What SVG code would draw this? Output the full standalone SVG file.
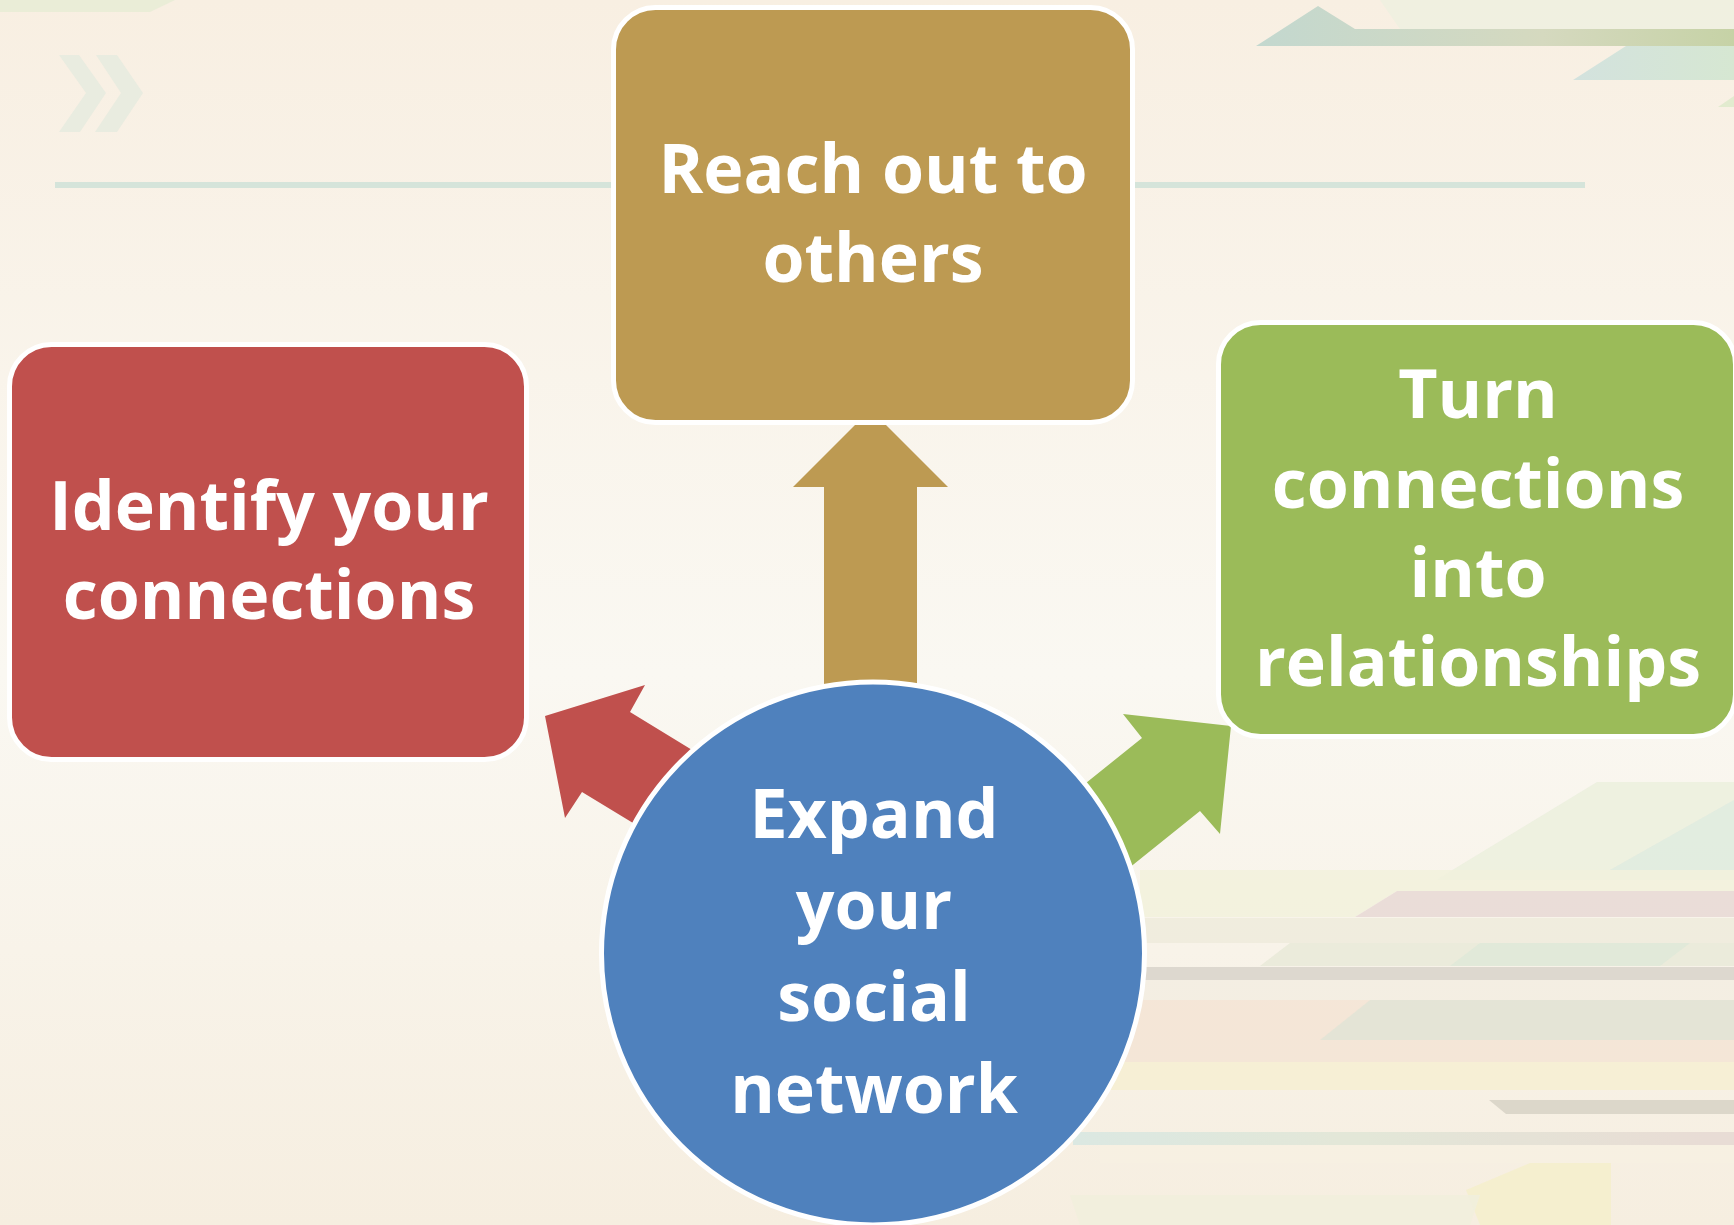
<svg xmlns="http://www.w3.org/2000/svg" width="1734" height="1225" viewBox="0 0 1734 1225">
<defs>
<linearGradient id="bg" x1="0" y1="0" x2="0" y2="1">
<stop offset="0" stop-color="#f8efe2"/>
<stop offset="0.55" stop-color="#faf8f2"/>
<stop offset="1" stop-color="#f6eee0"/>
</linearGradient>
<linearGradient id="teal1" x1="0" y1="0" x2="1" y2="0">
<stop offset="0" stop-color="#c3d8cf"/>
<stop offset="0.6" stop-color="#d5d9bf"/>
<stop offset="1" stop-color="#c6d2a6"/>
</linearGradient>
<linearGradient id="teal2" x1="0" y1="0" x2="1" y2="0">
<stop offset="0" stop-color="#d3e2de"/>
<stop offset="1" stop-color="#d6e7d2"/>
</linearGradient>
<linearGradient id="tealband" x1="0" y1="0" x2="1" y2="0">
<stop offset="0" stop-color="#d6e7e2"/>
<stop offset="0.4" stop-color="#dfe6d6"/>
<stop offset="1" stop-color="#e6d8d2"/>
</linearGradient>
<style>
.box{stroke:#ffffff;stroke-width:5}
.lbl{font-family:"Open Sans","Noto Sans","Liberation Sans",sans-serif;font-weight:700;font-size:68px;fill:#ffffff;text-anchor:middle}
.deco{stroke:none}
</style>
</defs>

<g id="background">
<rect x="0" y="0" width="1734" height="1225" fill="url(#bg)"/>
<polygon class="deco" points="0,0 175,0 150,12 0,12" fill="#e6ecd4" opacity="0.8"/>
<polygon class="deco" points="59,55 79,55 106,93 80,132 59,132 86,93" fill="#e9ece0"/>
<polygon class="deco" points="96,55 117,55 143,93 117,132 95,132 121,93" fill="#e9ece0"/>
<rect x="55" y="182" width="1530" height="6" fill="#d5e4da"/>
<polygon class="deco" points="1380,0 1734,0 1734,29 1400,29" fill="#eef0e0" opacity="0.8"/>
<polygon class="deco" points="1256,46 1318,6 1355,29 1734,29 1734,46" fill="url(#teal1)"/>
<polygon class="deco" points="1573,80 1626,46 1734,46 1734,80" fill="url(#teal2)"/>
<polygon class="deco" points="1718,107 1734,96 1734,107" fill="#e2ebcf"/>
<g opacity="0.85">
<polygon class="deco" points="1597,782 1734,782 1734,880 1436,880" fill="#e9eedb" opacity="0.9"/>
<polygon class="deco" points="1734,800 1734,870 1610,870" fill="#d9e8dd" opacity="0.8"/>
<polygon class="deco" points="1140,870 1734,870 1734,891 1397,891 1355,917 1140,917" fill="#f1f1da" opacity="0.9"/>
<polygon class="deco" points="1397,891 1734,891 1734,917 1355,917" fill="#e8d9d5"/>
<polygon class="deco" points="1140,918 1734,918 1734,943 1140,943" fill="#ece9d9" opacity="0.9"/>
<polygon class="deco" points="1290,943 1734,943 1734,966 1260,966" fill="#e6e8d6" opacity="0.9"/>
<polygon class="deco" points="1480,943 1690,943 1660,966 1450,966" fill="#dce7d6" opacity="0.9"/>
<rect x="1140" y="967" width="594" height="13" fill="#d8d4ca"/>
<polygon class="deco" points="1140,980 1734,980 1734,1000 1140,1000" fill="#f2ece0" opacity="0.9"/>
<polygon class="deco" points="1130,1000 1734,1000 1734,1062 1110,1062" fill="#f3e1d2" opacity="0.9"/>
<polygon class="deco" points="1370,1000 1734,1000 1734,1040 1320,1040" fill="#e0e1d3" opacity="0.95"/>
<polygon class="deco" points="1110,1062 1734,1062 1734,1090 1100,1090" fill="#f5edcf" opacity="0.9"/>
<polygon class="deco" points="1489,1100 1734,1100 1734,1114 1506,1114" fill="#d7d2c6"/>
<rect x="1073" y="1132" width="661" height="13" fill="url(#tealband)"/>
<polygon class="deco" points="1100,1145 1734,1145 1734,1163 1100,1163" fill="#f6f0e2" opacity="0.9"/>
<polygon class="deco" points="1530,1163 1611,1163 1611,1225 1480,1225 1466,1190" fill="#f5efcc"/>
<polygon class="deco" points="1070,1195 1480,1195 1470,1225 1080,1225" fill="#efeedb" opacity="0.9"/>
</g>
</g>

<g id="connectors">
<polygon id="arrow-gold" points="870.5,409.5 948,487 917,487 917,720 824,720 824,487 793,487" fill="#bd9a52"/>
<polygon id="arrow-red" points="545,716 645,685 630,712 769,797 712,871 582,792 565,818" fill="#c0504d"/>
<polygon id="arrow-green" points="1231,726 1220,834 1200,811 1083,905 1025,832 1142,738 1123,714" fill="#9bbb59"/>
</g>

<g id="node-reach">
<rect class="box" x="613.5" y="7.5" width="519" height="415" rx="42" fill="#bd9a52"/>
<text class="lbl" x="873" y="193">Reach out to</text>
<text class="lbl" x="873" y="282">others</text>
</g>

<g id="node-identify">
<rect class="box" x="9.5" y="344.5" width="517" height="415" rx="42" fill="#c0504d"/>
<text class="lbl" x="269" y="530">Identify your</text>
<text class="lbl" x="269" y="619">connections</text>
</g>

<g id="node-turn">
<rect class="box" x="1218.5" y="322.5" width="517" height="414" rx="42" fill="#9bbb59"/>
<text class="lbl" x="1478" y="418">Turn</text>
<text class="lbl" x="1478" y="508">connections</text>
<text class="lbl" x="1478" y="597">into</text>
<text class="lbl" x="1478" y="686">relationships</text>
</g>

<g id="node-expand">
<circle class="box" cx="873" cy="953.5" r="271.5" fill="#4f81bd"/>
<text class="lbl" x="874" y="838">Expand</text>
<text class="lbl" x="874" y="929">your</text>
<text class="lbl" x="874" y="1021">social</text>
<text class="lbl" x="874" y="1113">network</text>
</g>
</svg>
